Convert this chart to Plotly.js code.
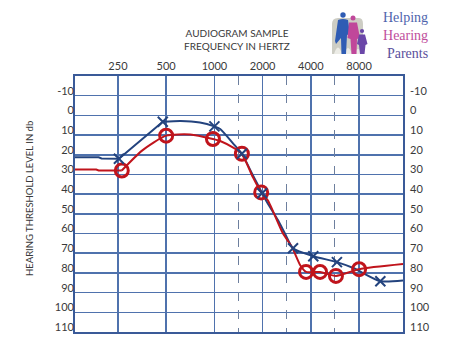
<!DOCTYPE html>
<html>
<head>
<meta charset="utf-8">
<script src="https://cdn.plot.ly/plotly-3.0.1.min.js"></script>
<style>
  html, body { margin: 0; padding: 0; background: #ffffff; }
  #chart { width: 474px; height: 355px; }
</style>
</head>
<body>
<div id="chart"></div>
<script>
// ---------- data ----------
// x positions: 250 Hz = 1, 500 = 2, 1000 = 3, 2000 = 4, 4000 = 5, 8000 = 6 (half-octaves at .5)
const freqTickPos = [1, 2, 3, 4, 5, 6];
const freqTickText = ['250', '500', '1000', '2000', '4000', '8000'];
const halfOctavePos = [3.5, 4.5, 5.5];
const dbLabels = [-10, 0, 10, 20, 30, 40, 50, 60, 70, 80, 90, 100, 110];
const dbLabelText = ['-10', '0', '10', '20', '30', '40', '50', '60', '70', '80', '90', '100', '110'];
const dbGrid = [-7.5, 2.5, 12.5, 22.5, 32.5, 42.5, 52.5, 62.5, 72.5, 82.5, 92.5, 102.5];

// right ear (X, blue) markers
const rightX = [1.02, 1.93, 3.0, 3.57, 3.99, 4.63, 5.05, 5.54, 6.44];
const rightY = [24.5, 5.7, 8.1, 22, 42, 70, 74, 77, 86.7];
// left ear (O, red) markers
const leftX = [1.08, 2.0, 2.97, 3.57, 3.97, 4.9, 5.19, 5.52, 6.0];
const leftY = [30.5, 12.8, 14.5, 22, 41.6, 82, 82, 84, 80.6];

// traced curves
const rightFlatX = [0.11, 0.6, 0.66, 1.02, 1.93];
const rightFlatY = [23.8, 23.8, 24.4, 24.5, 5.7];
const rightCurveX = [1.93, 2.3, 2.7, 3.0, 3.12, 3.39, 3.57, 3.8, 3.99, 4.07, 4.32, 4.46, 4.63, 5.05, 5.54, 5.88, 6.44, 6.91];
const rightCurveY = [5.7, 5.3, 6.1, 8.1, 9.4, 16.8, 22, 33, 42, 45.7, 55.8, 62.4, 70, 74, 77, 80, 86.7, 86.3];
const leftFlatX = [0.11, 0.55, 0.6, 1.08];
const leftFlatY = [30, 30, 30.5, 30.5];
const leftCurveX = [1.08, 1.5, 2.0, 2.5, 2.97, 3.12, 3.39, 3.57, 3.8, 3.97, 4.11, 4.42, 4.61, 4.78, 4.9, 5.19, 5.52, 6.0, 6.91];
const leftCurveY = [30.5, 20.4, 12.8, 12.2, 14.5, 15.5, 18.9, 22, 34, 41.6, 45.7, 62.4, 69.5, 78.6, 82, 82, 84, 80.6, 78];

// ---------- style ----------
const FONT = 'Lato, "Liberation Sans", sans-serif';
const SERIF = '"Liberation Serif", "DejaVu Serif", serif';
const TXT = '#3a3a3a';
const BLUE = '#23437e';
const RED = '#c0141c';
const GRID = '#4f72ad';
const FRAME = '#3a5a98';

// pixel -> paper helpers for decorations (plot area 75..403 x 76..332)
const PL = 75, PR = 403, PT = 76, PB = 332;
const px2x = p => (p - PL) / (PR - PL);
const py2y = p => (PB - p) / (PB - PT);

const traces = [
  {x: rightFlatX, y: rightFlatY, mode: 'lines', line: {color: BLUE, width: 2}, hoverinfo: 'skip', showlegend: false},
  {x: rightCurveX, y: rightCurveY, mode: 'lines', line: {color: BLUE, width: 2, shape: 'spline', smoothing: 0.6}, hoverinfo: 'skip', showlegend: false},
  {x: leftFlatX, y: leftFlatY, mode: 'lines', line: {color: RED, width: 2}, hoverinfo: 'skip', showlegend: false},
  {x: leftCurveX, y: leftCurveY, mode: 'lines', line: {color: RED, width: 2, shape: 'spline', smoothing: 0.6}, hoverinfo: 'skip', showlegend: false},
  {x: leftX, y: leftY, mode: 'markers', marker: {symbol: 'circle-open', size: 13, color: RED, line: {color: RED, width: 3}}, showlegend: false},
  {x: rightX, y: rightY, mode: 'markers', marker: {symbol: 'x-thin-open', size: 10, color: BLUE, line: {color: BLUE, width: 2}}, showlegend: false},
  // anchors for the overlay axes
  {x: [], y: [], xaxis: 'x2', yaxis: 'y2', mode: 'markers', showlegend: false, hoverinfo: 'skip'},
  {x: [], y: [], xaxis: 'x', yaxis: 'y3', mode: 'markers', showlegend: false, hoverinfo: 'skip'}
];

const xr = [0.11, 6.91];
const yr = [112.5, -17.5];

const svg = "<svg xmlns='http://www.w3.org/2000/svg' viewBox='0 0 42 46' width='42' height='46'>" +
  "<path d='M3 14 Q3 8 9 8 L30 8 Q34 8 34 14 L34 44 L3 44 Z' fill='#cdcdc4'/>" +
  "<path d='M5 44 Q9 31 13 44 Z M15 44 Q19 32 23 44 Z M25 44 Q29 34 33 44 Z' fill='#ecece6'/>" +
  "<circle cx='14' cy='5' r='2.7' fill='#2f5cb4'/>" +
  "<path d='M9 10 Q14 8 19 10 L21 24 L18 25 L17 44 L12.5 44 L12 28 L7 34 L6 31 Z' fill='#2f5cb4'/>" +
  "<circle cx='24' cy='8' r='2.5' fill='#c0479a'/>" +
  "<path d='M20 12.5 L28 12.5 L31 28 L28 29 L27.5 44 L22.5 44 L21.5 29 L18.5 28 Z' fill='#c0479a'/>" +
  "<circle cx='33' cy='21' r='2.1' fill='#6b47a8'/>" +
  "<path d='M30 24.5 L36 24.5 L38.5 34 L36.5 35 L35.5 44 L31 44 L30 35 L28 34 Z' fill='#6b47a8'/>" +
  "</svg>";

const logoText = "<span style='color:#4f64ad'>Helping</span><br>" +
                 "<span style='color:#c04e9c'>Hearing</span><br>" +
                 "<span style='color:#5b4f9c'>Parents</span>";

const layout = {
  width: 474, height: 355,
  margin: {l: PL, r: 474 - PR, t: PT, b: 355 - PB, pad: 0},
  paper_bgcolor: '#ffffff', plot_bgcolor: '#ffffff',
  font: {family: FONT, size: 11, color: TXT},
  title: {text: 'AUDIOGRAM SAMPLE<br>FREQUENCY IN HERTZ', x: 0.5, xanchor: 'center', xref: 'container',
          y: 1 - 36.5 / 355, yanchor: 'middle', yref: 'container',
          font: {family: FONT, size: 10, color: TXT}},
  xaxis: {range: xr, side: 'top', tickmode: 'array', tickvals: freqTickPos, ticktext: freqTickText,
          ticks: '', showgrid: true, gridcolor: GRID, gridwidth: 1.5, zeroline: false,
          showline: true, mirror: true, linecolor: FRAME, linewidth: 2,
          tickfont: {family: FONT, size: 11, color: TXT}, fixedrange: true},
  xaxis2: {range: xr, overlaying: 'x', side: 'bottom', tickmode: 'array', tickvals: halfOctavePos,
           showticklabels: false, ticks: '', showgrid: true, gridcolor: '#6d7f9e', gridwidth: 1,
           griddash: 'dash', zeroline: false, showline: false, fixedrange: true},
  yaxis: {range: yr, tickmode: 'array', tickvals: dbGrid, showticklabels: false, ticks: '',
          showgrid: true, gridcolor: GRID, gridwidth: 1.5, zeroline: false,
          showline: true, mirror: true, linecolor: FRAME, linewidth: 2, fixedrange: true},
  yaxis2: {range: yr, overlaying: 'y', side: 'left', tickmode: 'array', tickvals: dbLabels, ticktext: dbLabelText,
           ticks: '', showgrid: false, zeroline: false, showline: false,
           tickfont: {family: FONT, size: 11, color: TXT}, fixedrange: true},
  yaxis3: {range: yr, overlaying: 'y', side: 'right', tickmode: 'array', tickvals: dbLabels, ticktext: dbLabelText,
           ticks: '', showgrid: false, zeroline: false, showline: false, ticklabelstandoff: 6,
           tickfont: {family: FONT, size: 11, color: TXT}, fixedrange: true},
  annotations: [
    {text: 'HEARING THRESHOLD LEVEL IN db', xref: 'paper', yref: 'paper', x: px2x(29), y: py2y(198),
     xanchor: 'center', yanchor: 'middle', textangle: -90, showarrow: false,
     font: {family: FONT, size: 9.5, color: TXT}},
    {text: logoText, xref: 'paper', yref: 'paper', x: px2x(430), y: py2y(35), xanchor: 'right', yanchor: 'middle',
     align: 'right', showarrow: false, font: {family: SERIF, size: 14, color: '#4f64ad'}}
  ],
  images: [
    {source: 'data:image/svg+xml;base64,' + btoa(svg), xref: 'paper', yref: 'paper',
     x: px2x(329), y: py2y(10), sizex: 42 / (PR - PL), sizey: 46 / (PB - PT),
     xanchor: 'left', yanchor: 'top', sizing: 'stretch', layer: 'above'}
  ]
};

Plotly.newPlot('chart', traces, layout, {displayModeBar: false, staticPlot: true});
</script>
</body>
</html>
